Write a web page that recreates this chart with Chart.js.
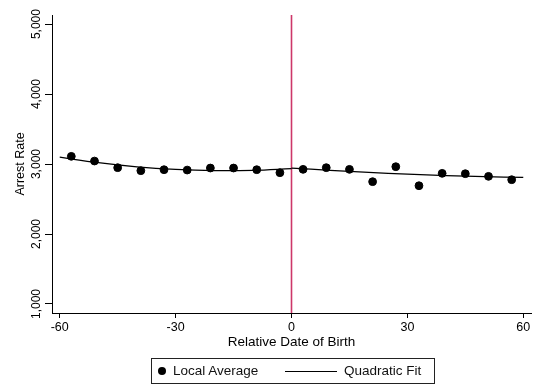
<!DOCTYPE html>
<html>
<head>
<meta charset="utf-8">
<script src="https://cdn.jsdelivr.net/npm/chart.js@4/dist/chart.umd.min.js"></script>
<style>
  body { margin: 0; background: #fff; }
  #wrap { position: relative; width: 536px; height: 387px; font-family: "Liberation Sans", Arial, sans-serif; }
  #legend {
    position: absolute; left: 151px; top: 358px; width: 282px; height: 24px;
    border: 1px solid #222; font-size: 13.5px; color: #111;
  }
  #legend .dot { position: absolute; left: 6px; top: 8px; width: 8px; height: 8px; border-radius: 50%; background: #000; }
  #legend .ln { position: absolute; left: 133px; top: 12px; width: 52px; height: 0; border-top: 1.3px solid #000; }
  #legend .t1 { position: absolute; left: 21px; top: 4px; }
  #legend .t2 { position: absolute; left: 192px; top: 4px; }
</style>
</head>
<body>
<div id="wrap">
  <canvas id="c" width="536" height="387"></canvas>
  <div id="legend">
    <span class="dot"></span><span class="t1">Local Average</span>
    <span class="ln"></span><span class="t2">Quadratic Fit</span>
  </div>
</div>
<script>
// binned local averages (6-day bins)
const leftBins = [-57, -51, -45, -39, -33, -27, -21, -15, -9, -3];
const leftAvg = [3110, 3043, 2948, 2905, 2919, 2914, 2943, 2943, 2919, 2876];
const rightBins = [3, 9, 15, 21, 27, 33, 39, 45, 51, 57];
const rightAvg = [2924, 2948, 2924, 2748, 2962, 2690, 2867, 2862, 2824, 2776];

// quadratic fit
const leftFitX = [-60, -50, -40, -30, -20, -10, 0];
const leftFitY = [3098, 3019, 2960, 2923, 2906, 2910, 2935];
const rightFitX = [0, 10, 20, 30, 40, 50, 60];
const rightFitY = [2942, 2910, 2880, 2855, 2835, 2819, 2808];

const cutoff = 0;
const xTicks = [-60, -30, 0, 30, 60];
const yTicks = [1000, 2000, 3000, 4000, 5000];

function toPoints(xs, ys) {
  let pts = [];
  for (let i = 0; i < xs.length; i++) {
    pts.push({ x: xs[i], y: ys[i] });
  }
  return pts;
}

// vertical line at the cutoff
const cutoffLine = {
  id: "cutoffLine",
  beforeDatasetsDraw(chart) {
    const x = chart.scales.x.getPixelForValue(cutoff);
    const area = chart.chartArea;
    const ctx = chart.ctx;
    ctx.save();
    ctx.strokeStyle = "rgb(205,55,105)";
    ctx.lineWidth = 1.6;
    ctx.beginPath();
    ctx.moveTo(x, area.top);
    ctx.lineTo(x, area.bottom);
    ctx.stroke();
    ctx.restore();
  },
};

const fitStyle = {
  type: "line",
  borderColor: "#000",
  borderWidth: 1.3,
  pointRadius: 0,
  fill: false,
  showLine: true,
  tension: 0.4,
};

new Chart(document.getElementById("c"), {
  type: "scatter",
  data: {
    datasets: [
      {
        label: "Local Average",
        data: toPoints(leftBins, leftAvg).concat(toPoints(rightBins, rightAvg)),
        backgroundColor: "#000",
        borderColor: "#000",
        pointRadius: 3.9,
      },
      Object.assign({ label: "Quadratic Fit", data: toPoints(leftFitX, leftFitY) }, fitStyle),
      Object.assign({ label: "Quadratic Fit R", data: toPoints(rightFitX, rightFitY) }, fitStyle),
    ],
  },
  options: {
    animation: false,
    responsive: false,
    layout: { padding: { left: 0, top: 15, right: 1, bottom: 34 } },
    plugins: { legend: { display: false }, tooltip: { enabled: false } },
    scales: {
      x: {
        type: "linear",
        min: -62,
        max: 62,
        afterBuildTicks: (s) => { s.ticks = xTicks.map((v) => ({ value: v })); },
        afterFit: (s) => { s.height = 40; },
        grid: { drawOnChartArea: false, drawTicks: true, tickLength: 5, color: "#000" },
        border: { color: "#000", width: 1 },
        ticks: { color: "#000", padding: 2, font: { family: "Liberation Sans", size: 12.5 } },
        title: {
          display: true,
          text: "Relative Date of Birth",
          color: "#000",
          padding: { top: 0, bottom: 3 },
          font: { family: "Liberation Sans", size: 13.5 },
        },
      },
      y: {
        type: "linear",
        min: 871,
        max: 5130,
        afterBuildTicks: (s) => { s.ticks = yTicks.map((v) => ({ value: v })); },
        afterFit: (s) => { s.width = 52; },
        grid: { drawOnChartArea: false, drawTicks: true, tickLength: 7, color: "#000" },
        border: { color: "#000", width: 1 },
        ticks: {
          color: "#000",
          minRotation: 90,
          maxRotation: 90,
          crossAlign: "center",
          padding: -7,
          font: { family: "Liberation Sans", size: 12 },
          callback: (v) => v.toLocaleString("en-US"),
        },
        title: {
          display: true,
          text: "Arrest Rate",
          color: "#000",
          padding: { top: 13, bottom: 0 },
          font: { family: "Liberation Sans", size: 12.5 },
        },
      },
    },
  },
  plugins: [cutoffLine],
});
</script>
</body>
</html>
